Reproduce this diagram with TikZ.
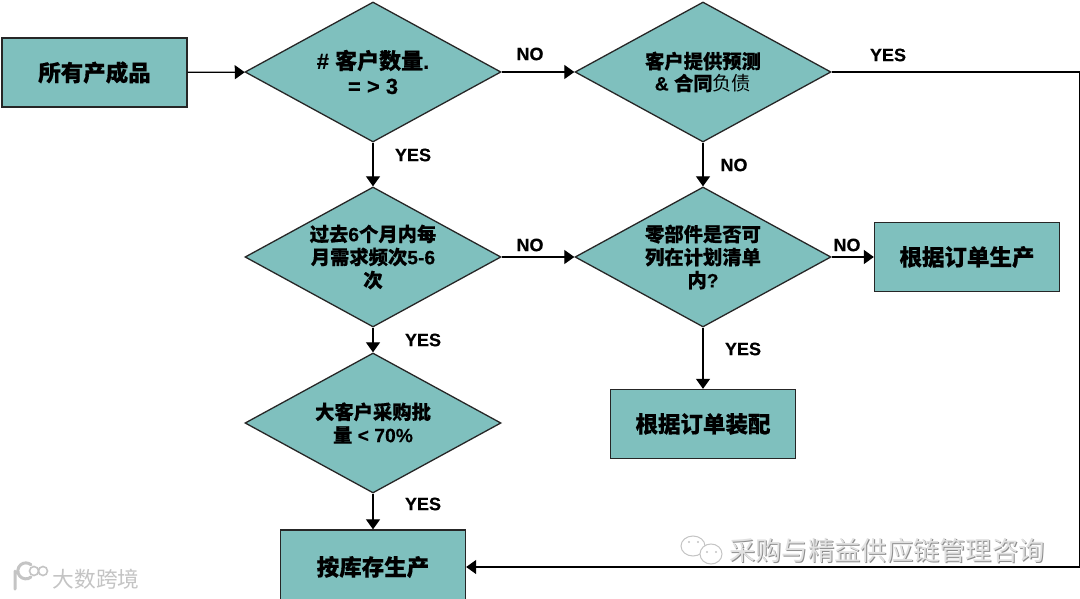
\documentclass[tikz,border=0pt]{standalone}
\usepackage{fontspec}
\setmainfont[BoldFeatures={FakeBold=0.35}]{Liberation Sans}
\newfontfamily\cjk[BoldFeatures={FakeBold=0.4}]{Noto Sans CJK SC}
\usetikzlibrary{shapes.geometric,arrows.meta}
\definecolor{tealfill}{HTML}{7FC0BE}
\definecolor{wmgray}{HTML}{C4C4C4}
\definecolor{wmshade}{HTML}{8E8E8E}
\newcommand{\zh}[1]{{\cjk\bfseries #1}}
\tikzset{
  x=1pt,y=-1pt,
  decision/.style={diamond,draw=black!85,line width=1.3pt,fill=tealfill,aspect=1.81,minimum width=256pt,minimum height=140pt,inner sep=0pt,align=center,font=\bfseries\fontsize{19.3}{23}\selectfont},
  procbox/.style={rectangle,draw=black!85,line width=1.3pt,fill=tealfill,minimum width=185pt,minimum height=69pt,inner sep=0pt,align=center,font=\fontsize{22.5}{26}\selectfont},
  flow/.style={draw=black,line width=1.2pt,-{Triangle[length=10pt,width=14pt]}},
  lbl/.style={font=\bfseries\fontsize{18}{22}\selectfont,inner sep=0pt},
  wmfill/.style={fill=white,draw=wmgray,line width=1pt}
}
\begin{document}
\begin{tikzpicture}
\useasboundingbox (0,0) rectangle (1080,599);
\fill[white] (0,0) rectangle (1080,599);
\node[procbox] (start) at (94.5,72.5) {\zh{所有产成品}};
\node[decision,font=\bfseries\fontsize{22}{25}\selectfont] (q1) at (373,72) {\# \zh{客户数量}.\\= > 3};
\node[decision,font=\bfseries\fontsize{19.3}{22}\selectfont] (q2) at (703,72) {\zh{客户提供预测}\\\& \zh{合同}{\cjk\mdseries 负债}};
\node[decision] (q3) at (373,257) {\zh{过去}6\zh{个月内每}\\\zh{月需求频次}5-6\\\zh{次}};
\node[decision] (q4) at (703,257) {\zh{零部件是否可}\\\zh{列在计划清单}\\\zh{内}?};
\node[decision] (q5) at (373,423) {\zh{大客户采购批}\\\zh{量} < 70\%};
\node[procbox] (make) at (967,257) {\zh{根据订单生产}};
\node[procbox] (assy) at (703,424) {\zh{根据订单装配}};
\node[procbox,minimum height=74pt] (stock) at (373,567) {\zh{按库存生产}};
\coordinate (rt) at (1079.5,72);
\coordinate (rb) at (1079.5,567);
\draw[flow] (start) -- (q1);
\draw[flow] (q1) -- (q2);
\draw[flow] (q1) -- (q3);
\draw[flow] (q3) -- (q4);
\draw[flow] (q3) -- (q5);
\draw[flow] (q5) -- (stock);
\draw[flow] (q2) -- (q4);
\draw[flow] (q4) -- (make);
\draw[flow] (q4) -- (assy);
\draw[flow] (q2.east) -- (rt) -- (rb) -- (stock.east);
\node[lbl] (l1) at (530,54) {NO};
\node[lbl] (l2) at (888,55) {YES};
\node[lbl] (l3) at (413,155) {YES};
\node[lbl] (l4) at (734,165) {NO};
\node[lbl] (l5) at (530,245) {NO};
\node[lbl] (l6) at (847,245) {NO};
\node[lbl] (l7) at (423,340) {YES};
\node[lbl] (l8) at (743,349) {YES};
\node[lbl] (l9) at (423,504) {YES};
% watermarks
\node[font=\cjk\fontsize{26.3}{30}\selectfont,text=wmshade,inner sep=0pt] (w1s) at (888,552) {采购与精益供应链管理咨询};
\node[font=\cjk\fontsize{26.3}{30}\selectfont,text=wmgray!50,inner sep=0pt] (w1) at (887,551) {采购与精益供应链管理咨询};
\draw[wmfill] (693,546) ellipse (12 and 10);
\draw[wmfill] (711,554) ellipse (11 and 10);
\fill[wmgray] (689,542) circle (1.2) (698,542) circle (1.2) (707,552) circle (1.2) (716,552) circle (1.2);
\node[font=\cjk\fontsize{21.7}{24}\selectfont,text=wmgray,inner sep=0pt] (w2) at (96,579) {大数跨境};
\draw[wmgray,line width=3pt,line cap=round] (15,571) -- (15,589) (31,577) arc (50:310:8 and 8);
\draw[wmgray,line width=1.6pt] (34,571) circle (4.5) (43,571) circle (4.5);
\end{tikzpicture}
\end{document}
